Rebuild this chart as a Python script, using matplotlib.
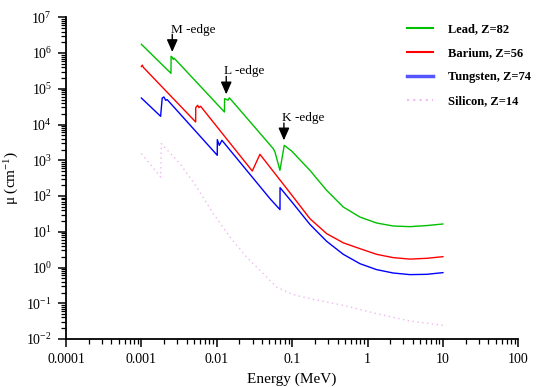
import math
import matplotlib
matplotlib.use('Agg')
import matplotlib.pyplot as plt
from matplotlib.ticker import LogLocator, FixedLocator, FuncFormatter, NullFormatter
from matplotlib.lines import Line2D

plt.rcParams['font.family'] = ['Liberation Serif', 'DejaVu Serif']
plt.rcParams['mathtext.fontset'] = 'custom'
plt.rcParams['mathtext.rm'] = 'Liberation Serif'
plt.rcParams['mathtext.it'] = 'Liberation Serif:italic'

# energy in MeV, attenuation coefficient in 1/cm
lead_E = [0.001, 0.00247, 0.00248, 0.00257, 0.00265, 0.00272, 0.01265, 0.0127, 0.0141, 0.0147,
          0.0561, 0.0592, 0.0689, 0.0786, 0.0984, 0.172, 0.287, 0.477, 0.793, 1.32, 2.19, 3.65, 6.08, 10]
lead_mu = [1.76e6, 2.71e5, 8.1e5, 7.6e5, 6.6e5, 7.2e5, 2.24e4, 5.3e4, 4.8e4, 5.6e4,
           2120, 1700, 524, 2620, 1815, 524, 144, 49.2, 25.8, 17.6, 14.5, 13.9, 14.9, 16.5]

barium_E = [0.001, 0.00103, 0.00106, 0.00525, 0.00526, 0.00558, 0.00581, 0.00611, 0.0296, 0.0374,
            0.1035, 0.172, 0.287, 0.477, 0.793, 1.32, 2.19, 3.65, 6.08, 10]
barium_mu = [4.2e5, 4.6e5, 4.0e5, 1.18e4, 2.97e4, 3.45e4, 2.97e4, 3.24e4, 501, 1470,
             94, 23.3, 8.87, 4.91, 3.37, 2.34, 1.89, 1.72, 1.81, 2.01]

tungsten_E = [0.001, 0.0018, 0.00189, 0.00199, 0.0021, 0.0022, 0.01016, 0.01017, 0.0108, 0.01172,
              0.0508, 0.0690, 0.0691, 0.1035, 0.172, 0.287, 0.477, 0.793, 1.32, 2.19, 3.65, 6.08, 10]
tungsten_mu = [5.52e4, 1.70e4, 5.52e4, 5.89e4, 4.76e4, 4.98e4, 1380, 3780, 2620, 3620,
               84.5, 41.7, 172, 61.2, 16.1, 5.41, 2.34, 1.28, 0.873, 0.702, 0.633, 0.645, 0.719]

silicon_E = [0.001, 0.0018, 0.00184, 0.00325, 0.00541, 0.0090, 0.01496, 0.0249, 0.0414, 0.0622,
             0.1035, 0.172, 0.477, 1.32, 3.65, 10]
silicon_mu = [1540, 340, 2920, 807, 179, 32.2, 7.13, 1.96, 0.675, 0.284,
              0.174, 0.135, 0.0875, 0.0513, 0.0319, 0.0241]

labels = ['Lead, Z=82', 'Barium, Z=56', 'Tungsten, Z=74', 'Silicon, Z=14']
colors = ['#00c000', '#ff0000', '#0000ff', '#f0b8f0']

xticks = [0.0001, 0.001, 0.01, 0.1, 1, 10, 100]
xticklabels = ['0.0001', '0.001', '0.01', '0.1', '1', '10', '100']

# (label, energy, arrow tip, arrow tail, text x, text y)
edges = [('M -edge', 0.00257, 1.07e6, 3.34e6, 0.00245, 4.5e6),
         ('L -edge', 0.01336, 7.0e4, 2.23e5, 0.01245, 3.14e5),
         ('K -edge', 0.0778, 3610, 1.1e4, 0.0740, 1.56e4)]

fig = plt.figure(figsize=(5.39, 3.87), dpi=100)
ax = fig.add_axes([0.1224, 0.124, 0.8392, 0.8313])

ax.plot(lead_E, lead_mu, color=colors[0], lw=1.0)
ax.plot(barium_E, barium_mu, color=colors[1], lw=1.0)
ax.plot(tungsten_E, tungsten_mu, color=colors[2], lw=1.0)
ax.plot(silicon_E, silicon_mu, color=colors[3], lw=1.0, ls=(0, (1, 2.5)))

ax.set_xscale('log')
ax.set_yscale('log')
ax.set_xlim(0.0001, 100)
ax.set_ylim(1e-2, 1e7)

ax.xaxis.set_major_locator(FixedLocator(xticks))
ax.set_xticklabels(xticklabels)
ax.xaxis.set_minor_locator(LogLocator(base=10, subs=range(2, 10), numticks=20))
ax.xaxis.set_minor_formatter(NullFormatter())
ax.yaxis.set_major_locator(LogLocator(base=10, numticks=20))
ax.yaxis.set_minor_locator(LogLocator(base=10, subs=range(2, 10), numticks=20))
ax.yaxis.set_minor_formatter(NullFormatter())
ax.yaxis.set_major_formatter(FuncFormatter(lambda v, p: r'$\mathregular{10^{%d}}$' % round(math.log10(v))))

for s in ['top', 'right']:
    ax.spines[s].set_visible(False)
for s in ['left', 'bottom']:
    ax.spines[s].set_linewidth(1.3)
ax.tick_params(which='major', direction='out', length=6, width=1.1, labelsize=10, pad=4)
ax.tick_params(which='minor', direction='out', length=3.5, width=0.9)

ax.set_xlabel('Energy (MeV)', fontsize=11, labelpad=5)
ax.set_ylabel('μ (cm$^{\\mathregular{-1}}$)', fontsize=11, labelpad=4)

for name, ex, tip, tail, tx, ty in edges:
    ax.annotate('', xy=(ex, tip), xytext=(ex, tail),
                arrowprops=dict(arrowstyle='-|>,head_length=0.75,head_width=0.33', color='k',
                                lw=1.0, shrinkA=0, shrinkB=0, mutation_scale=10))
    ax.text(tx, ty, name, fontsize=9.5, ha='left', va='center')

handles = [Line2D([], [], color=colors[0], lw=1.5),
           Line2D([], [], color=colors[1], lw=1.5),
           Line2D([], [], color='#5555ff', lw=2.5),
           Line2D([], [], color=colors[3], lw=1.5, ls=(0, (1, 2)))]
fig.legend(handles, labels, loc='upper left', bbox_to_anchor=(407 / 539, 1 - 23 / 387),
           frameon=False, prop={'weight': 'bold', 'size': 9}, handlelength=2.1,
           handletextpad=1.2, labelspacing=0.97, borderpad=0, borderaxespad=0)

fig.savefig('out.png', dpi=100)
